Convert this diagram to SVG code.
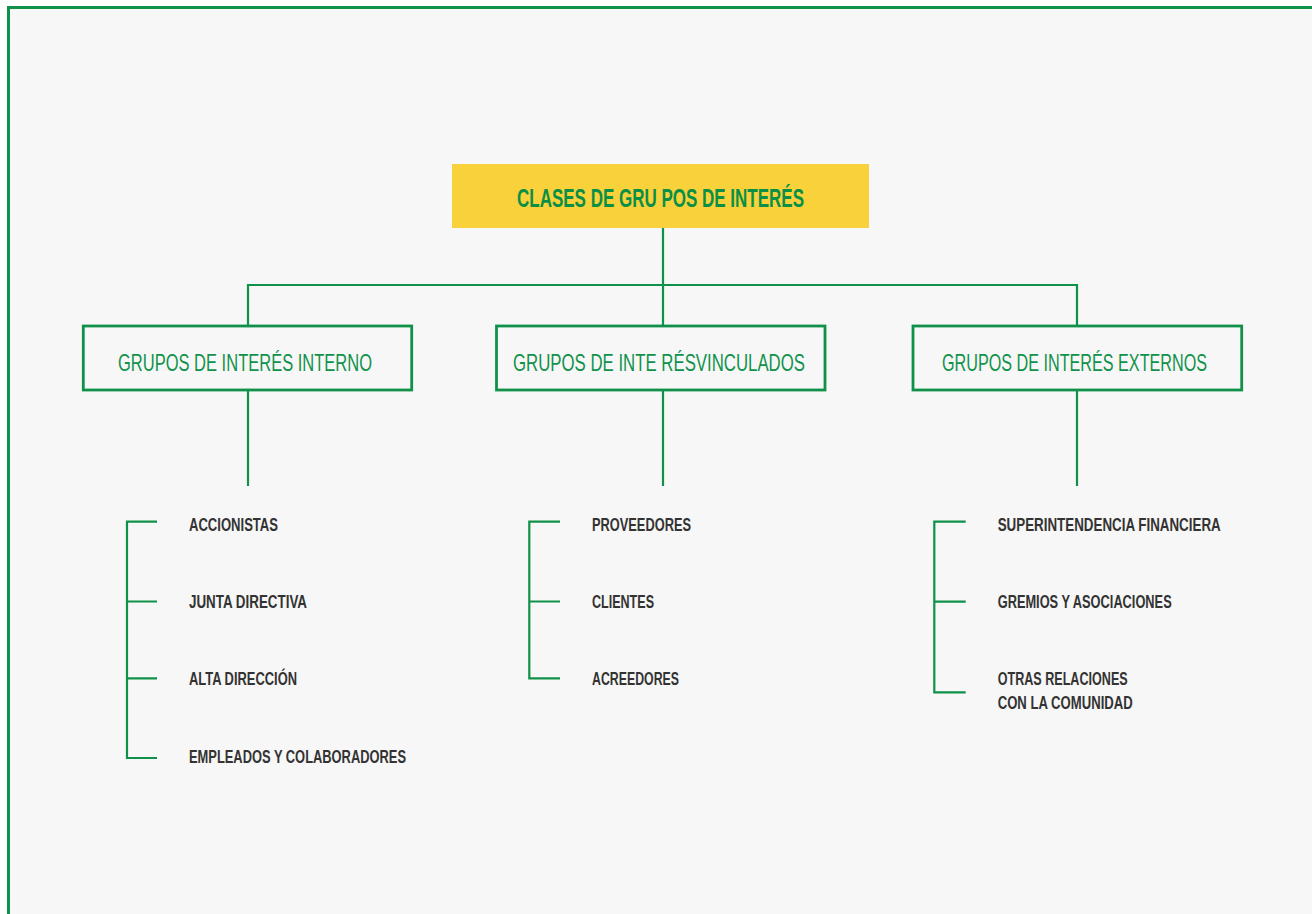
<svg xmlns="http://www.w3.org/2000/svg" width="1312" height="914" viewBox="0 0 1312 914">
<style>
.ln{stroke:#10914a;stroke-width:2.2;fill:none}
.box{fill:#f7f7f7;stroke:#10914a;stroke-width:2.8}
.title{font-family:"Liberation Sans",Arial,sans-serif;font-weight:bold;font-size:25px;fill:#0b8f46}
.lbl{font-family:"Liberation Sans",Arial,sans-serif;font-size:24px;fill:#10924a}
.item{font-family:"Liberation Sans",Arial,sans-serif;font-weight:bold;font-size:18.5px;fill:#333333}
</style>
<rect x="0" y="0" width="1312" height="914" fill="#ffffff"/>
<rect x="8.5" y="7.5" width="1310" height="910" fill="#f7f7f7"/>
<path d="M8.5 914 V7.5 H1312" stroke="#10914a" stroke-width="3" fill="none"/>
<g id="connectors">
<path class="ln" d="M663 228 V285 M248 285 H1077 M248 284 V326 M663 285 V326 M1077 284 V326"/>
<path class="ln" d="M248 390 V486 M663 390 V486 M1077 390 V486"/>
<path class="ln" d="M157 521.7 H127 V758 H157 M127 601.5 H157 M127 678.3 H157"/>
<path class="ln" d="M560 521.7 H529.3 V678.3 H560 M529.3 601.5 H560"/>
<path class="ln" d="M965.7 521.7 H934.3 V692.3 H965.7 M934.3 601.7 H965.7"/>
</g>
<g id="root">
<rect x="452" y="164" width="417" height="64" fill="#f9d13b"/>
<text class="title" x="517" y="207" textLength="287" lengthAdjust="spacingAndGlyphs">CLASES DE GRU POS DE INTERÉS</text>
</g>
<g id="interno">
<rect class="box" x="83.3" y="326" width="328.4" height="64"/>
<text class="lbl" x="118" y="371" textLength="254" lengthAdjust="spacingAndGlyphs">GRUPOS DE INTERÉS INTERNO</text>
</g>
<g id="vinculados">
<rect class="box" x="496.5" y="326" width="328.5" height="64"/>
<text class="lbl" x="513" y="371" textLength="292" lengthAdjust="spacingAndGlyphs">GRUPOS DE INTE RÉSVINCULADOS</text>
</g>
<g id="externos">
<rect class="box" x="913" y="326" width="328.7" height="64"/>
<text class="lbl" x="942" y="371" textLength="265" lengthAdjust="spacingAndGlyphs">GRUPOS DE INTERÉS EXTERNOS</text>
</g>
<g id="items-interno">
<text class="item" x="189" y="531" textLength="89" lengthAdjust="spacingAndGlyphs">ACCIONISTAS</text>
<text class="item" x="189" y="608" textLength="118" lengthAdjust="spacingAndGlyphs">JUNTA DIRECTIVA</text>
<text class="item" x="189" y="685" textLength="108" lengthAdjust="spacingAndGlyphs">ALTA DIRECCIÓN</text>
<text class="item" x="189" y="763" textLength="217" lengthAdjust="spacingAndGlyphs">EMPLEADOS Y COLABORADORES</text>
</g>
<g id="items-vinculados">
<text class="item" x="592" y="531" textLength="99" lengthAdjust="spacingAndGlyphs">PROVEEDORES</text>
<text class="item" x="592" y="608" textLength="62" lengthAdjust="spacingAndGlyphs">CLIENTES</text>
<text class="item" x="592" y="685" textLength="87" lengthAdjust="spacingAndGlyphs">ACREEDORES</text>
</g>
<g id="items-externos">
<text class="item" x="997.7" y="531" textLength="223" lengthAdjust="spacingAndGlyphs">SUPERINTENDENCIA FINANCIERA</text>
<text class="item" x="997.7" y="608" textLength="174" lengthAdjust="spacingAndGlyphs">GREMIOS Y ASOCIACIONES</text>
<text class="item" x="997.7" y="685" textLength="130" lengthAdjust="spacingAndGlyphs">OTRAS RELACIONES</text>
<text class="item" x="997.7" y="709.3" textLength="135" lengthAdjust="spacingAndGlyphs">CON LA COMUNIDAD</text>
</g>
</svg>
